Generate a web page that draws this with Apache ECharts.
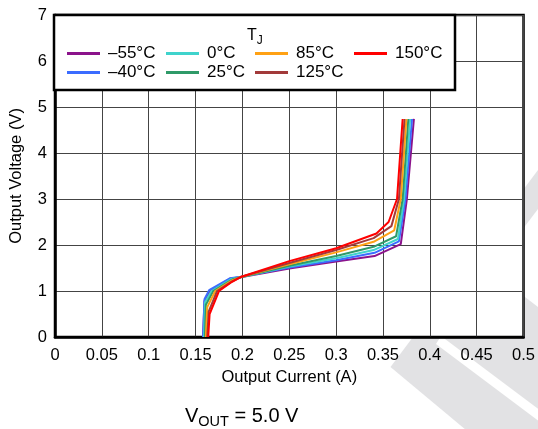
<!DOCTYPE html>
<html>
<head>
<meta charset="utf-8">
<script src="https://cdn.jsdelivr.net/npm/echarts@6/dist/echarts.min.js"></script>
<style>
html,body{margin:0;padding:0;background:#fff;}
#chart{width:538px;height:429px;}
</style>
</head>
<body>
<div id="chart"></div>
<script>
// ---- data ----
const xTickLabels = ['0','0.05','0.1','0.15','0.2','0.25','0.3','0.35','0.4','0.45','0.5'];
const yTickLabels = ['0','1','2','3','4','5','6','7'];
const seriesNames = ['\u201355\u00b0C','\u201340\u00b0C','0\u00b0C','25\u00b0C','85\u00b0C','125\u00b0C','150\u00b0C'];
const seriesColors = ['#8b138b','#3b6cff','#3fd3cc','#2f9a68','#ffa114','#a23a3a','#ff0000'];

const currentM55 = [0.158, 0.1595, 0.165, 0.187, 0.198, 0.25, 0.30, 0.341, 0.369, 0.3755, 0.383];
const voltageM55 = [0, 0.78, 1.00, 1.27, 1.30, 1.49, 1.64, 1.76, 2.02, 3.0, 4.74];
const currentM40 = [0.158, 0.1595, 0.1645, 0.187, 0.198, 0.25, 0.30, 0.341, 0.367, 0.374, 0.381];
const voltageM40 = [0, 0.82, 1.02, 1.28, 1.31, 1.51, 1.67, 1.83, 2.08, 3.0, 4.74];
const current0 = [0.159, 0.160, 0.167, 0.188, 0.198, 0.25, 0.30, 0.340, 0.366, 0.3725, 0.379];
const voltage0 = [0, 0.75, 1.00, 1.26, 1.30, 1.53, 1.71, 1.89, 2.13, 3.0, 4.74];
const current25 = [0.160, 0.161, 0.169, 0.189, 0.198, 0.25, 0.30, 0.340, 0.364, 0.371, 0.377];
const voltage25 = [0, 0.70, 1.00, 1.25, 1.30, 1.55, 1.76, 1.96, 2.19, 3.0, 4.74];
const current85 = [0.161, 0.1625, 0.171, 0.189, 0.199, 0.25, 0.30, 0.340, 0.362, 0.369, 0.375];
const voltage85 = [0, 0.65, 1.00, 1.23, 1.31, 1.58, 1.84, 2.07, 2.32, 3.0, 4.74];
const current125 = [0.1625, 0.164, 0.173, 0.189, 0.199, 0.25, 0.30, 0.340, 0.359, 0.367, 0.373];
const voltage125 = [0, 0.55, 1.00, 1.21, 1.31, 1.61, 1.89, 2.15, 2.41, 3.0, 4.74];
const current150 = [0.1635, 0.165, 0.175, 0.189, 0.199, 0.25, 0.30, 0.343, 0.356, 0.365, 0.371];
const voltage150 = [0, 0.50, 1.00, 1.20, 1.31, 1.65, 1.93, 2.25, 2.50, 3.0, 4.74];

const currents = [currentM55, currentM40, current0, current25, current85, current125, current150];
const voltages = [voltageM55, voltageM40, voltage0, voltage25, voltage85, voltage125, voltage150];

// ---- chart ----
const FONT = 'Liberation Sans, Arial, Helvetica, sans-serif';
const chart = echarts.init(document.getElementById('chart'), null, {renderer: 'canvas'});

const series = seriesNames.map((name, i) => ({
  name: name,
  type: 'line',
  showSymbol: false,
  symbol: 'none',
  smooth: false,
  animation: false,
  data: currents[i].map((c, j) => [c, voltages[i][j]]),
  lineStyle: {color: seriesColors[i], width: 2},
  itemStyle: {color: seriesColors[i]},
  z: 3
}));

// legend positions (two rows, four columns)
const legendPos = [
  [67, 45], [67, 64], [166, 45], [166, 64], [255, 45], [255, 64], [354, 45]
];
const legends = seriesNames.map((name, i) => ({
  data: [name],
  left: legendPos[i][0],
  top: legendPos[i][1],
  padding: 0,
  icon: 'rect',
  itemWidth: 33,
  itemHeight: 3,
  selectedMode: false,
  z: 10,
  textStyle: {fontFamily: FONT, fontSize: 17, color: '#000', padding: [0, 0, 0, 3]}
}));

const wm = '#e2e2e4';
const option = {
  backgroundColor: '#fff',
  animation: false,
  textStyle: {fontFamily: FONT},
  grid: {left: 54, top: 15, width: 470, height: 322, show: true,
         backgroundColor: '#fff', borderColor: '#000', borderWidth: 2.5, z: 0},
  xAxis: {
    type: 'value', min: 0, max: 0.5, interval: 0.05,
    name: 'Output Current (A)', nameLocation: 'middle', nameGap: 30,
    nameTextStyle: {fontFamily: FONT, fontSize: 16.5, color: '#000'},
    axisLine: {show: true, lineStyle: {color: '#000', width: 2.5}},
    axisTick: {show: false},
    axisLabel: {fontFamily: FONT, fontSize: 16.5, color: '#000', margin: 10,
      formatter: v => xTickLabels[Math.round(v / 0.05)]},
    splitLine: {show: true, lineStyle: {color: '#444', width: 1}}
  },
  yAxis: {
    type: 'value', min: 0, max: 7, interval: 1,
    name: 'Output Voltage (V)', nameLocation: 'middle', nameGap: 30,
    nameTextStyle: {fontFamily: FONT, fontSize: 16.5, color: '#000'},
    axisLine: {show: true, lineStyle: {color: '#000', width: 2.5}},
    axisTick: {show: false},
    axisLabel: {fontFamily: FONT, fontSize: 16.5, color: '#000', margin: 8,
      formatter: v => yTickLabels[Math.round(v)]},
    splitLine: {show: true, lineStyle: {color: '#444', width: 1}}
  },
  legend: legends,
  title: [
    {
      text: '{m|V}{s|OUT}{m| = 5.0 V}',
      left: 185, top: 406, padding: 0,
      textStyle: {fontWeight: 'normal', rich: {
        m: {fontFamily: FONT, fontSize: 20, fontWeight: 'normal', color: '#000', verticalAlign: 'top', lineHeight: 20},
        s: {fontFamily: FONT, fontSize: 14.5, fontWeight: 'normal', color: '#000', verticalAlign: 'top', lineHeight: 14.5, padding: [8, 0, 0, 0]}
      }}
    },
    {
      text: '{m|T}{s|J}',
      left: 247, top: 28, padding: 0, z: 10,
      textStyle: {fontWeight: 'normal', rich: {
        m: {fontFamily: FONT, fontSize: 16, fontWeight: 'normal', color: '#000', verticalAlign: 'top', lineHeight: 16},
        s: {fontFamily: FONT, fontSize: 12, fontWeight: 'normal', color: '#000', verticalAlign: 'top', lineHeight: 12, padding: [7, 0, 0, 0]}
      }}
    }
  ],
  graphic: [
    {type: 'polygon', z: -5, silent: true,
     shape: {points: [[390.5, 367], [538, 170], [538, 440], [478, 440]]},
     style: {fill: wm}},
    {type: 'polygon', z: -4, silent: true,
     shape: {points: [[491, 271], [538, 209], [538, 307]]},
     style: {fill: '#fff'}},
    {type: 'polygon', z: -4, silent: true,
     shape: {points: [[441, 336], [545, 414], [540, 422], [436, 344]]},
     style: {fill: '#fff'}},
    {type: 'rect', z: 8, silent: true,
     shape: {x: 54, y: 15, width: 401, height: 75},
     style: {fill: '#fff', stroke: '#000', lineWidth: 2.5}}
  ],
  series: series
};
chart.setOption(option);
</script>
</body>
</html>
